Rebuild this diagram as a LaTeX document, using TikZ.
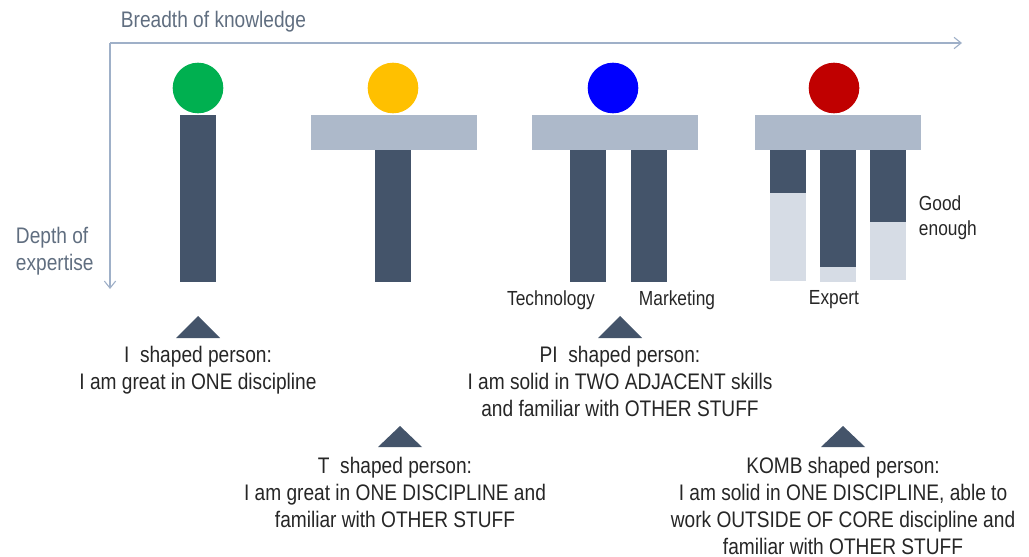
\documentclass[tikz,border=0pt]{standalone}
\usepackage{fontspec}
\setmainfont[FakeStretch=0.85]{Liberation Sans}
\usetikzlibrary{arrows.meta}
\definecolor{slate}{HTML}{44546A}
\definecolor{steel}{HTML}{ADB9CA}
\definecolor{mist}{HTML}{D6DCE5}
\definecolor{axisgray}{HTML}{9FB0C8}
\definecolor{pgreen}{HTML}{00B050}
\definecolor{pyellow}{HTML}{FFC000}
\definecolor{pblue}{HTML}{0000FF}
\definecolor{pred}{HTML}{C00000}
\tikzset{
  deep/.style={fill=slate},
  wide/.style={fill=steel},
  shallow/.style={fill=mist},
  head/.style={circle, minimum size=36, inner sep=0pt},
  marker/.style={fill=slate},
  caption/.style={align=center, font=\fontsize{16}{19.3}\selectfont, text=black!85},
  tag/.style={font=\fontsize{14.5}{17.5}\selectfont, text=black!85},
  axislabel/.style={font=\fontsize{16}{19.5}\selectfont, text=slate!85},
}
\begin{document}
\begin{tikzpicture}[x=0.025cm, y=-0.025cm, >={Straight Barb[length=5pt,width=8pt]}]
    \useasboundingbox (0,0) rectangle (1029,557);

    % axes
    \coordinate (origin) at (110,43);
    \coordinate (breadth) at (962,43);
    \coordinate (depth) at (110,289);
    \draw[axisgray, line width=0.8pt, ->] (origin) -- (breadth);
    \draw[axisgray, line width=0.8pt, ->] (origin) -- (depth);
    \node[axislabel, anchor=west] (breadthlbl) at (116,22) {Breadth of knowledge};
    \node[axislabel, align=left, anchor=west] (depthlbl) at (11,251) {Depth of\\expertise};

    % I shaped (green)
    \node[head, fill=pgreen] (ihead) at (198,88) {};
    \fill[deep] (180,115) rectangle (216,282);

    % T shaped (yellow)
    \node[head, fill=pyellow] (thead) at (393,88) {};
    \fill[wide] (311,115) rectangle (477,150);
    \fill[deep] (375,150) rectangle (411,282);

    % PI shaped (blue)
    \node[head, fill=pblue] (pihead) at (613,88) {};
    \fill[wide] (532,115) rectangle (698,150);
    \fill[deep] (570,150) rectangle (606,282);
    \fill[deep] (631,150) rectangle (667,282);
    \node[tag] (tech) at (551,300) {Technology};
    \node[tag] (mkt) at (677,300) {Marketing};

    % KOMB shaped (red)
    \node[head, fill=pred] (kombhead) at (834,88) {};
    \fill[wide] (755,115) rectangle (921,150);
    \fill[deep] (770,150) rectangle (806,193);
    \fill[shallow] (770,193) rectangle (806,281);
    \fill[deep] (820,150) rectangle (856,267);
    \fill[shallow] (820,267) rectangle (856,282);
    \fill[deep] (870,150) rectangle (906,222);
    \fill[shallow] (870,222) rectangle (906,280);
    \node[tag] (expert) at (834,300) {Expert};
    \node[tag, align=left, anchor=west] (good) at (914,218) {Good\\enough};

    % markers
    \fill[marker] (176,338) -- (198,316) -- (220,338) -- cycle;
    \fill[marker] (598,338) -- (620,316) -- (642,338) -- cycle;
    \fill[marker] (378,447) -- (400,426) -- (422,447) -- cycle;
    \fill[marker] (821,447) -- (843,426) -- (865,447) -- cycle;

    % captions
    \node[caption, anchor=north] (icap) at (198,341)
        {I\ \ shaped person:\\I am great in ONE discipline};
    \node[caption, anchor=north] (picap) at (620,341)
        {PI\ \ shaped person:\\I am solid in TWO ADJACENT skills\\and familiar with OTHER STUFF};
    \node[caption, anchor=north] (tcap) at (395,452)
        {T\ \ shaped person:\\I am great in ONE DISCIPLINE and\\familiar with OTHER STUFF};
    \node[caption, anchor=north] (kombcap) at (843,452)
        {KOMB shaped person:\\I am solid in ONE DISCIPLINE, able to\\work OUTSIDE OF CORE discipline and\\familiar with OTHER STUFF};

\end{tikzpicture}
\end{document}
